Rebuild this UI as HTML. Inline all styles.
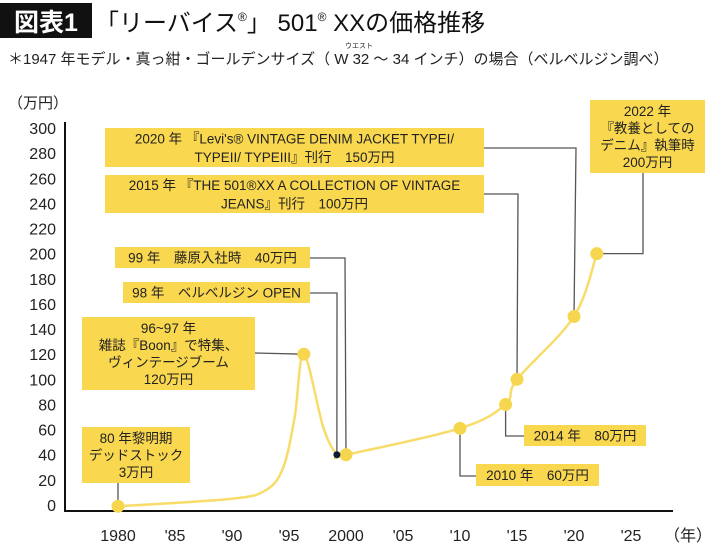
<!DOCTYPE html>
<html><head><meta charset="utf-8"><style>
body{margin:0;background:#fff;width:710px;height:548px;overflow:hidden;font-family:"Liberation Sans","Noto Sans CJK JP",sans-serif;}
#t{position:absolute;left:0;top:0;width:710px;height:548px}
</style></head><body>
<div id="t">
<svg id="svg" width="710" height="548" xmlns="http://www.w3.org/2000/svg" font-family="Liberation Sans, Noto Sans CJK JP, sans-serif">
<rect x="0" y="3" width="92" height="35" fill="#111"/>
<text x="46" y="31" font-size="25" font-weight="bold" fill="#fff" text-anchor="middle">図表1</text>
<text x="95" y="31" font-size="24" fill="#111">「リーバイス<tspan font-size="12" dy="-10">®</tspan><tspan dy="10">」 501</tspan><tspan font-size="12" dy="-10">®</tspan><tspan dy="10"> XXの価格推移</tspan></text>
<text x="8" y="64" font-size="15" fill="#222">＊1947 年モデル・真っ紺・ゴールデンサイズ（ W 32 ～ 34 インチ）の場合（ベルベルジン調べ）</text>
<text x="345" y="48" font-size="7" fill="#222">ウエスト</text>
<text x="8" y="108" font-size="15" fill="#222">（万円）</text>
<g id="axes"></g>
<g id="leaders"></g>
<g id="series"></g>
<g id="boxes"></g>
</svg>
</div>
<script>
const yTicks=[0,20,40,60,80,100,120,140,160,180,200,220,240,260,280,300];
const xTicks=[1980,1985,1990,1995,2000,2005,2010,2015,2020,2025];
const xTickLabels=["1980","'85","'90","'95","2000","'05","'10","'15","'20","'25"];
const curveYears=[1980,1990,1993,1994.5,1995.5,1996.3,1998,1999.2,2000,2010,2014,2015,2020,2022];
const curveValues=[-1,5,12,30,70,120,62,40,40,61,80,100,150,200];
const pointYears=[1980,1996.3,2000,2010,2014,2015,2020,2022];
const pointValues=[-1,120,40,61,80,100,150,200];
const darkYears=[1999.2];
const darkValues=[40];
const NS="http://www.w3.org/2000/svg";
const xs=y=>118+(y-1980)*11.4;
const ys=v=>505-v*1.2567;
function mk(tag,at,parent){const e=document.createElementNS(NS,tag);for(const k in at)e.setAttribute(k,at[k]);document.getElementById(parent).appendChild(e);return e;}
let e;
e=mk('line',{x1:65,y1:122,x2:65,y2:511,stroke:'#111','stroke-width':2},'axes');


e=mk('line',{x1:64,y1:511,x2:673,y2:511,stroke:'#111','stroke-width':2},'axes');


yTicks.forEach(v=>{e=mk('text',{x:56,y:ys(v)+6,'font-size':16,'text-anchor':'end',fill:'#222'},'axes');e.textContent=v;

});
xTicks.forEach((yr,i)=>{e=mk('text',{x:xs(yr),y:541,'font-size':16,'text-anchor':'middle',fill:'#222'},'axes');e.textContent=xTickLabels[i];

});
e=mk('text',{x:688,y:541,'font-size':16,'text-anchor':'middle',fill:'#222'},'axes');e.textContent='（年）';


const P=curveYears.map((y,i)=>[xs(y),ys(curveValues[i])]);
let d='M'+P[0][0]+','+P[0][1];
for(let i=0;i<P.length-1;i++){const p0=P[Math.max(0,i-1)],p1=P[i],p2=P[i+1],p3=P[Math.min(P.length-1,i+2)];
d+=' C'+(p1[0]+(p2[0]-p0[0])/6)+','+(p1[1]+(p2[1]-p0[1])/6)+' '+(p2[0]-(p3[0]-p1[0])/6)+','+(p2[1]-(p3[1]-p1[1])/6)+' '+p2[0]+','+p2[1];}
const L=[[[484,148],[576,148],[xs(2020),ys(150)]],[[484,194],[518,194],[xs(2015),ys(100)]],[[643,173],[643,ys(200)],[xs(2022),ys(200)]],
[[310,258],[345,258],[xs(2000),ys(40)]],[[310,293],[337,293],[xs(1999.2),ys(40)]],[[255,353],[xs(1996.3),ys(120)]],
[[118,483],[xs(1980),ys(-1)]],[[xs(2010),ys(61)],[xs(2010),476],[476,476]],[[xs(2014),ys(80)],[xs(2014),436],[524,436]]];
L.forEach(pts=>{e=mk('polyline',{points:pts.map(p=>p.join(',')).join(' '),fill:'none',stroke:'#555','stroke-width':1.3},'leaders');

});
e=mk('path',{d:d,fill:'none',stroke:'#f8dc6a','stroke-width':2.5},'series');


pointYears.forEach((y,i)=>{e=mk('circle',{cx:xs(y),cy:ys(pointValues[i]),r:6.5,fill:'#f7d64f'},'series');

});
darkYears.forEach((y,i)=>{e=mk('circle',{cx:xs(y),cy:ys(darkValues[i]),r:3.5,fill:'#0f1a33'},'series');

});
const B=[[105,128,379,39,["2020 年 『Levi's® VINTAGE DENIM JACKET TYPEI/","TYPEII/ TYPEIII』刊行　150万円"]],
[105,175,379,38,["2015 年 『THE 501®XX A COLLECTION OF VINTAGE","JEANS』刊行　100万円"]],
[590,100,115,73,["2022 年","『教養としての","デニム』執筆時","200万円"]],
[115,247,195,21,["99 年　藤原入社時　40万円"]],
[123,282,187,21,["98 年　ベルベルジン OPEN"]],
[82,317,173,73,["96~97 年","雑誌『Boon』で特集、","ヴィンテージブーム","120万円"]],
[82,427,108,56,["80 年黎明期","デッドストック","3万円"]],
[476,464,123,22,["2010 年　60万円"]],
[524,425,122,21,["2014 年　80万円"]]];
B.forEach(b=>{e=mk('rect',{x:b[0],y:b[1],width:b[2],height:b[3],fill:'#f9d74e'},'boxes');


const n=b[4].length,lh=n>2?17:18.5,top=b[1]+b[3]/2-(n*lh)/2;
b[4].forEach((s,j)=>{e=mk('text',{x:b[0]+b[2]/2,y:top+lh*(j+0.5)+5,'font-size':13.5,'text-anchor':'middle',fill:'#222'},'boxes');e.textContent=s;

});});
</script>
</body></html>
